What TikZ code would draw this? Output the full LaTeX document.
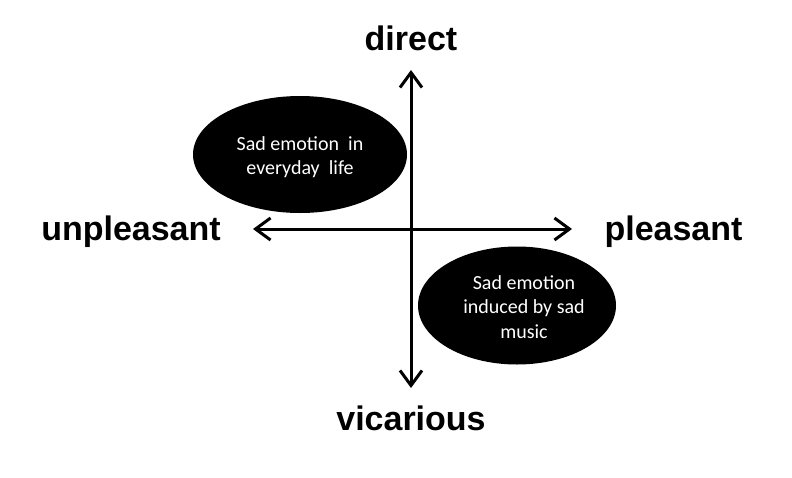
\documentclass[tikz,border=0pt]{standalone}
\usepackage{fontspec}
\setmainfont{Liberation Sans}
\newfontfamily\calfont{Carlito}
\usetikzlibrary{arrows.meta}
\tikzset{
  axis/.style={line width=3pt, {Straight Barb[length=15pt,width=22pt,line width=3pt]}-{Straight Barb[length=15pt,width=22pt,line width=3pt]}},
  axlabel/.style={font=\fontsize{34}{40}\selectfont\bfseries, inner sep=0pt, anchor=base},
  blob/.style={fill=black, draw=none},
  blobtext/.style={text=white, font=\calfont\fontsize{20}{24.5}\selectfont, align=center, inner sep=0pt}
}
\begin{document}
\begin{tikzpicture}[x=1pt,y=-1pt]
\useasboundingbox[fill=white] (0,0) rectangle (792,477);
% ellipses
\fill[blob] (300,154.5) ellipse [x radius=107, y radius=58.5];
\fill[blob] (517,305.5) ellipse [x radius=99, y radius=59];
\node[blobtext] (e1) at (300,157) {Sad emotion\ \ in\\everyday\ \ life};
\node[blobtext] (e2) at (524,307) {Sad emotion\\induced by sad\\music};
% axes endpoints
\coordinate (top) at (411,70);
\coordinate (bot) at (411,388);
\coordinate (lft) at (253,229);
\coordinate (rgt) at (572,229);
\draw[axis] (top) -- (bot);
\draw[axis] (lft) -- (rgt);
% labels
\node[axlabel] (direct) at (411,50) {direct};
\node[axlabel] (vic) at (411,430) {vicarious};
\node[axlabel] (unp) at (131,240) {unpleasant};
\node[axlabel] (ple) at (673.5,240) {pleasant};
\end{tikzpicture}
\end{document}
